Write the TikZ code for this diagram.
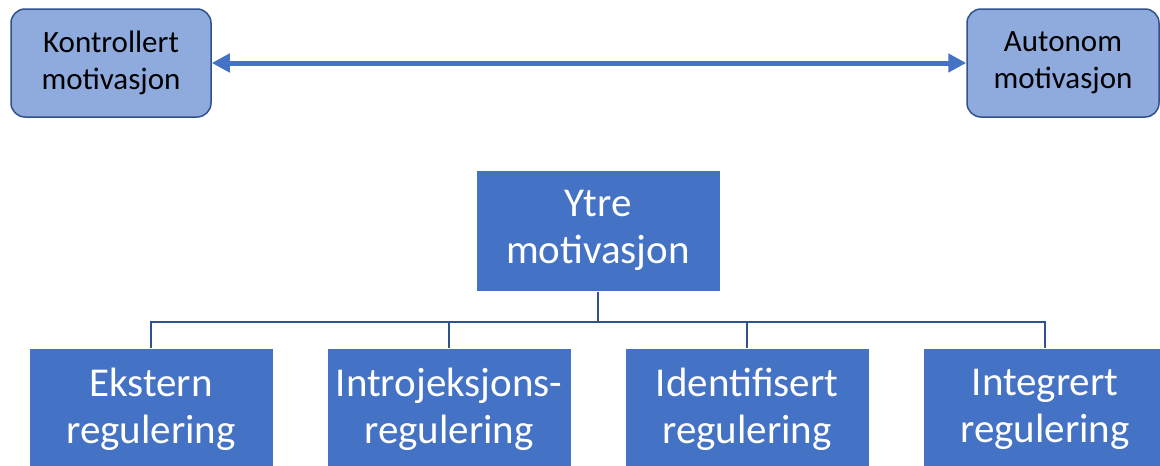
\documentclass[tikz,border=0pt]{standalone}
\usepackage{fontspec}
\setmainfont{Carlito}
\usetikzlibrary{arrows.meta}
\definecolor{lightblue}{HTML}{8FAADC}
\definecolor{midblue}{HTML}{4472C4}
\definecolor{darkblue}{HTML}{2F528F}
\tikzset{
  topbox/.style={draw=darkblue,line width=1.5pt,fill=lightblue,rounded corners=14pt,
    align=center,inner sep=0pt,font=\fontsize{31}{37}\selectfont},
  bluebox/.style={draw=white,line width=1pt,fill=midblue,text=white,
    align=center,inner sep=0pt,minimum width=244pt,font=\fontsize{41}{47}\selectfont},
  tree/.style={draw=darkblue,line width=2pt}
}
\begin{document}
\begin{tikzpicture}[x=1pt,y=-1pt]
      \useasboundingbox (0,0) rectangle (1160,466);
      \clip (0,0) rectangle (1160,466);
      \node[topbox,minimum width=200pt,minimum height=108pt] (ctrl) at (111,63) {Kontrollert\\motivasjon};
      \node[topbox,minimum width=192pt,minimum height=108pt] (auto) at (1063,63) {Autonom\\motivasjon};
      \node[bluebox,minimum height=121pt] (ytre) at (598,230.5) {Ytre\\motivasjon};
      \node[bluebox,minimum height=122pt] (ekst) at (151,409) {Ekstern\\regulering};
      \node[bluebox,minimum height=122pt] (intro) at (449,409) {Introjeksjons-\\regulering};
      \node[bluebox,minimum height=122pt] (ident) at (747,409) {Identifisert\\regulering};
      \node[bluebox,minimum height=122pt] (integ) at (1045,409) {Integrert\\regulering};

\draw[midblue,line width=5pt,{Triangle[length=18pt,width=18pt]}-{Triangle[length=18pt,width=18pt]}] (ctrl) -- (auto);
\foreach \c in {ekst,intro,ident,integ}
  \draw[tree] (ytre.south) -- ++(0,30) -| (\c.north);
\end{tikzpicture}
\end{document}
